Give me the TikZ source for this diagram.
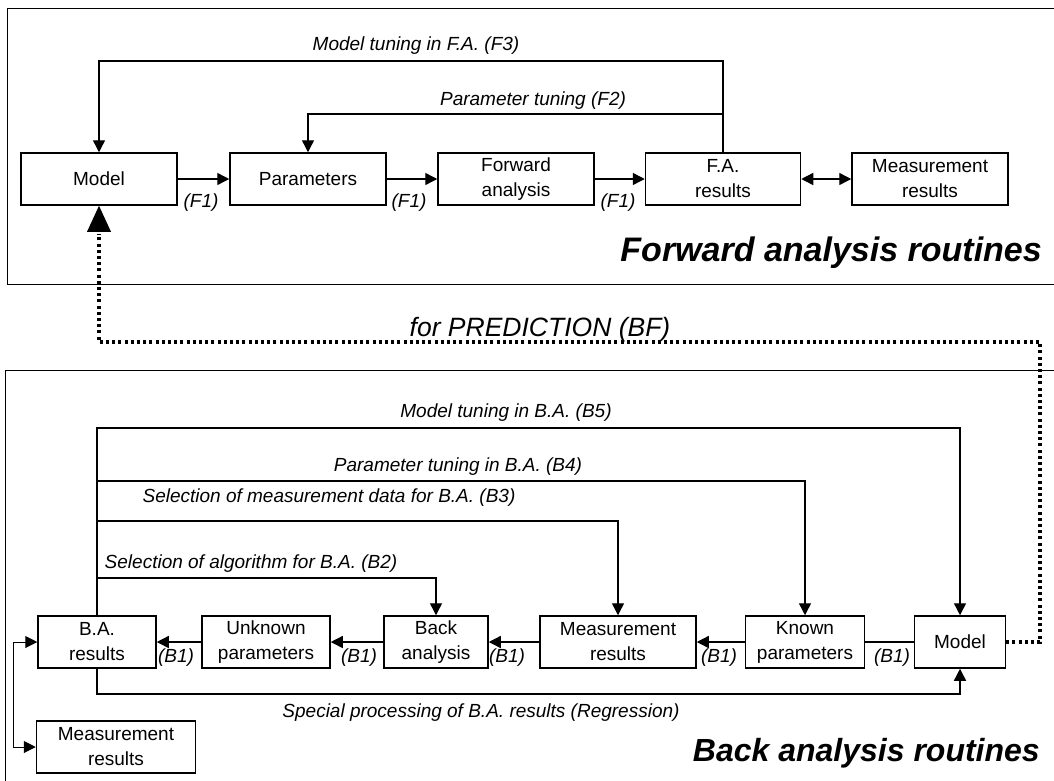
\documentclass[tikz,border=0pt]{standalone}
\usepackage{fontspec}
\setmainfont{Liberation Sans}
\usetikzlibrary{arrows.meta}

\begin{document}
\begin{tikzpicture}[x=1pt,y=-1pt,
  box/.style={draw, line width=1.5pt, minimum height=52pt, inner sep=0pt,
              align=center, font=\fontsize{19}{25}\selectfont},
  tip/.style={-{Triangle[length=12pt,width=12pt]}},
  link/.style={line width=1.4pt},
  flow/.style={link, tip},
  lbl/.style={font=\fontsize{19}{22}\selectfont\itshape, inner sep=0pt},
  frame/.style={line width=0.9pt},
  title/.style={font=\fontsize{#1}{36}\selectfont\bfseries\itshape,
                anchor=east, inner sep=0pt},
  pred/.style={line width=3.8pt, dash pattern=on 3pt off 3.2pt}]

\clip (0,0) rectangle (1054,780);
\fill[white] (0,0) rectangle (1054,780);

% ---------- frames ----------
\draw[frame] (7,8) rectangle (1080,284);
\draw[frame] (5,370) rectangle (1080,800);

% ---------- forward analysis routines ----------
\node[box, minimum width=156pt] (tmodel) at (99,179)  {Model};
\node[box, minimum width=156pt] (tpar)   at (308,179) {Parameters};
\node[box, minimum width=156pt] (tfwd)   at (516,179) {Forward\\analysis};
\node[box, minimum width=155pt] (tfar)   at (723,179) {F.A.\\results};
\node[box, minimum width=156pt] (tmeas)  at (930,179) {Measurement\\results};

\draw[flow] (tmodel) -- (tpar);
\draw[flow] (tpar) -- (tfwd);
\draw[flow] (tfwd) -- (tfar);
\draw[link, {Triangle[length=12pt,width=12pt]}-{Triangle[length=12pt,width=12pt]}] (tfar) -- (tmeas);

\node[lbl] (f1a) at (201,203) {(F1)};
\node[lbl] (f1b) at (409,203) {(F1)};
\node[lbl] (f1c) at (618,203) {(F1)};

\coordinate (yF3) at (0,61);
\coordinate (yF2) at (0,114);
\draw[flow] (tfar.north) -- (tfar.north |- yF3) -| (tmodel.north);
\coordinate (jF2) at (tfar.north |- yF2);
\draw[flow] (jF2) -| (tpar.north);

\node[lbl] (lF3) at (416,46)  {Model tuning in F.A. (F3)};
\node[lbl] (lF2) at (533,101) {Parameter tuning (F2)};

\node[title=34] (tfa) at (1042,253) {Forward analysis routines};

% ---------- back analysis routines ----------
\node[box, minimum width=118pt] (bar)    at (97,642)  {B.A.\\results};
\node[box, minimum width=128pt] (bunk)   at (266,642) {Unknown\\parameters};
\node[box, minimum width=104pt] (bback)  at (436,642) {Back\\analysis};
\node[box, minimum width=156pt] (bmeas)  at (618,642) {Measurement\\results};
\node[box, minimum width=119pt] (bknown) at (805,642) {Known\\parameters};
\node[box, minimum width=91pt]  (bmodel) at (960,642) {Model};
\node[box, minimum width=159pt] (bmres)  at (116,747) {Measurement\\results};

\draw[flow] (bunk) -- (bar);
\draw[flow] (bback) -- (bunk);
\draw[flow] (bmeas) -- (bback);
\draw[flow] (bknown) -- (bmeas);
\draw[link] (bmodel) -- (bknown);

\node[lbl] (b1a) at (176,658) {(B1)};
\node[lbl] (b1b) at (359,658) {(B1)};
\node[lbl] (b1c) at (507,658) {(B1)};
\node[lbl] (b1d) at (719,658) {(B1)};
\node[lbl] (b1e) at (892,658) {(B1)};

\coordinate (yB5) at (0,428);
\coordinate (yB4) at (0,481);
\coordinate (yB3) at (0,521);
\coordinate (yB2) at (0,578);
\coordinate (ySp) at (0,694);
\draw[flow] (bar.north) -- (bar.north |- yB5) -| (bmodel.north);
\coordinate (jB4) at (bar.north |- yB4);
\coordinate (jB3) at (bar.north |- yB3);
\coordinate (jB2) at (bar.north |- yB2);
\draw[flow] (jB4) -| (bknown.north);
\draw[flow] (jB3) -| (bmeas.north);
\draw[flow] (jB2) -| (bback.north);
\draw[flow] (bar.south) -- (bar.south |- ySp) -| (bmodel.south);

\node[lbl] (lB5) at (506,413) {Model tuning in B.A. (B5)};
\node[lbl] (lB4) at (458,467) {Parameter tuning in B.A. (B4)};
\node[lbl] (lB3) at (329,498) {Selection of measurement data for B.A. (B3)};
\node[lbl] (lB2) at (251,564) {Selection of algorithm for B.A. (B2)};
\node[lbl] (lSp) at (481,713) {Special processing of B.A. results (Regression)};

\coordinate (dl) at (13,0);
\draw[link, line width=1pt, {Triangle[length=12pt,width=12pt]}-{Triangle[length=12pt,width=12pt]}]
  (bar.west) -- (dl |- bar.west) -- (dl |- bmres.west) -- (bmres.west);

\node[title=32] (tba) at (1040,753) {Back analysis routines};

% ---------- link between the two routines ----------
\coordinate (bfR) at (1040,342);
\draw[pred] (bmodel.east) -| (bfR) -| ([yshift=-28pt]tmodel.south);
\fill (tmodel.south) -- ++(-12,26) -- ++(24,0) -- cycle;
\node[font=\fontsize{26.5}{30}\selectfont\itshape, inner sep=0pt] (lBF) at (540,330) {for PREDICTION (BF)};

\end{tikzpicture}
\end{document}
